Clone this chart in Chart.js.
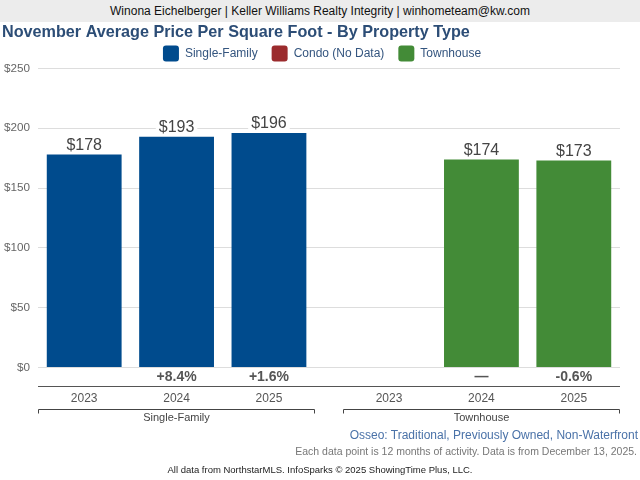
<!DOCTYPE html>
<html>
<head>
<meta charset="UTF-8">
<title>November Average Price Per Square Foot</title>
<script src="https://cdn.jsdelivr.net/npm/chart.js@4.4.0/dist/chart.umd.min.js"></script>
<style>
	body { margin: 0; width: 640px; height: 480px; position: relative; overflow: hidden; background: #fff; font-family: "Liberation Sans", Arial, sans-serif; }
	#header { position: absolute; left: 0; top: 0; width: 640px; height: 22px; line-height: 22px; background: #ececec; text-align: center; font-size: 12px; color: #111; }
	#chartBox { position: absolute; left: 0; top: 22px; width: 640px; height: 428px; }
	#area { position: absolute; right: 2px; top: 428px; font-size: 12px; color: #4a72a8; white-space: nowrap; }
	#note { position: absolute; right: 3px; top: 445px; font-size: 10.5px; color: #777; white-space: nowrap; }
	#credit { position: absolute; left: 0; top: 464px; width: 640px; text-align: center; font-size: 9.5px; color: #222; }
</style>
</head>
<body>
	<div id="header">Winona Eichelberger | Keller Williams Realty Integrity | winhometeam@kw.com</div>
	<div id="chartBox"><canvas id="priceChart"></canvas></div>
	<div id="area">Osseo: Traditional, Previously Owned, Non-Waterfront</div>
	<div id="note">Each data point is 12 months of activity. Data is from December 13, 2025.</div>
	<div id="credit">All data from NorthstarMLS. InfoSparks © 2025 ShowingTime Plus, LLC.</div>

	<script>
		var years = ['2023', '2024', '2025'];
		var groups = ['Single-Family', 'Townhouse'];
		var singleFamily = [178, 193, 196];
		var condo = [];
		var townhouse = [null, 174, 173];
		var changeSingleFamily = ['', '+8.4%', '+1.6%'];
		var changeTownhouse = ['', '\u2014', '-0.6%'];
		var yTicks = [0, 50, 100, 150, 200, 250];

		var changes = [changeSingleFamily, changeTownhouse];
		var groupGap = 0.3;

		// position of a bar on the x scale: group index + year index
		function xPos(g, i) {
			return g * (years.length + groupGap) + i + 0.5;
		}
		function points(g, values) {
			return values.map(function (v, i) { return { x: xPos(g, i), y: v }; });
		}

		var extras = {
			id: 'extras',
			beforeInit: function (chart) {
				// legend sits a little tighter and a bit to the right
				var fit = chart.legend.fit;
				chart.legend.fit = function () {
					fit.call(this);
					this.height -= 3;
				};
				var draw = chart.legend.draw;
				chart.legend.draw = function () {
					this.ctx.save();
					this.ctx.translate(11, 0);
					draw.apply(this, arguments);
					this.ctx.restore();
				};
			},
			afterDatasetsDraw: function (chart) {
				var ctx = chart.ctx;
				ctx.save();
				ctx.font = '16px "Liberation Sans", Arial, sans-serif';
				ctx.textAlign = 'center';
				ctx.textBaseline = 'middle';
				chart.data.datasets.forEach(function (ds, di) {
					var meta = chart.getDatasetMeta(di);
					meta.data.forEach(function (bar, i) {
						var v = ds.data[i] && ds.data[i].y;
						if (v == null) return;
						var text = '$' + v;
						var w = ctx.measureText(text).width + 6;
						ctx.fillStyle = '#fff';
						ctx.fillRect(bar.x - w / 2, bar.y - 18, w, 17);
						ctx.fillStyle = '#444';
						ctx.fillText(text, bar.x, bar.y - 9);
					});
				});
				ctx.restore();
			},
			afterDraw: function (chart) {
				var ctx = chart.ctx;
				var area = chart.chartArea;
				var xs = chart.scales.x;
				ctx.save();
				ctx.textAlign = 'center';
				ctx.textBaseline = 'middle';

				ctx.font = 'bold 14px "Liberation Sans", Arial, sans-serif';
				ctx.fillStyle = '#555';
				changes.forEach(function (list, g) {
					list.forEach(function (t, i) {
						if (t) ctx.fillText(t, xs.getPixelForValue(xPos(g, i)), area.bottom + 10);
					});
				});

				ctx.strokeStyle = '#555';
				ctx.lineWidth = 1;
				var sy = Math.round(area.bottom + 19) - 0.5;
				ctx.beginPath();
				ctx.moveTo(area.left, sy);
				ctx.lineTo(area.right, sy);
				ctx.stroke();

				ctx.font = '11px "Liberation Sans", Arial, sans-serif';
				ctx.fillStyle = '#444';
				ctx.strokeStyle = '#444';
				var by = Math.round(area.bottom + 41) + 0.5;
				groups.forEach(function (name, g) {
					var l = Math.round(xs.getPixelForValue(g * (years.length + groupGap))) + 0.5;
					var r = Math.round(xs.getPixelForValue(g * (years.length + groupGap) + years.length)) - 0.5;
					ctx.beginPath();
					ctx.moveTo(l, by + 4);
					ctx.lineTo(l, by);
					ctx.lineTo(r, by);
					ctx.lineTo(r, by + 4);
					ctx.stroke();
					ctx.fillText(name, (l + r) / 2, area.bottom + 50);
				});
				ctx.restore();
			}
		};

		new Chart(document.getElementById('priceChart'), {
			type: 'bar',
			data: {
				datasets: [
					{ label: 'Single-Family', data: points(0, singleFamily), backgroundColor: '#004b8d', grouped: false },
					{ label: 'Condo (No Data)', data: condo, backgroundColor: '#9b2b2d', grouped: false },
					{ label: 'Townhouse', data: points(1, townhouse), backgroundColor: '#438b37', grouped: false }
				]
			},
			options: {
				responsive: true,
				maintainAspectRatio: false,
				animation: false,
				categoryPercentage: 0.9,
				barPercentage: 0.9,
				layout: { padding: { left: 2, right: 20, top: 0, bottom: 20 } },
				plugins: {
					title: {
						display: true,
						text: 'November Average Price Per Square Foot - By Property Type',
						align: 'start',
						color: '#2c4d76',
						font: { family: '"Liberation Sans", Arial, sans-serif', size: 16.2, weight: 'bold' },
						padding: { top: 1, bottom: -11 }
					},
					legend: {
						labels: {
							boxWidth: 16,
							boxHeight: 16,
							padding: 14,
							useBorderRadius: true,
							borderRadius: 3,
							color: '#34557f',
							font: { family: '"Liberation Sans", Arial, sans-serif', size: 12 }
						}
					},
					tooltip: { enabled: false }
				},
				scales: {
					x: {
						type: 'linear',
						min: 0,
						max: groups.length * years.length + (groups.length - 1) * groupGap,
						offset: false,
						grid: { display: false, drawTicks: false },
						border: { display: false },
						afterBuildTicks: function (scale) {
							var t = [];
							groups.forEach(function (name, g) {
								years.forEach(function (y, i) { t.push({ value: xPos(g, i) }); });
							});
							scale.ticks = t;
						},
						ticks: {
							autoSkip: false,
							maxRotation: 0,
							padding: 24,
							color: '#555',
							font: { family: '"Liberation Sans", Arial, sans-serif', size: 12 },
							callback: function (value, index) { return years[index % years.length]; }
						}
					},
					y: {
						min: yTicks[0],
						max: yTicks[yTicks.length - 1],
						grid: { color: '#dddddd', drawTicks: false },
						border: { display: false },
						afterFit: function (scale) { scale.width = 36; },
						ticks: {
							stepSize: yTicks[1] - yTicks[0],
							padding: 8,
							color: '#666',
							font: { family: '"Liberation Sans", Arial, sans-serif', size: 11.7 },
							callback: function (v) { return '$' + v; }
						}
					}
				}
			},
			plugins: [extras]
		});
	</script>
</body>
</html>
